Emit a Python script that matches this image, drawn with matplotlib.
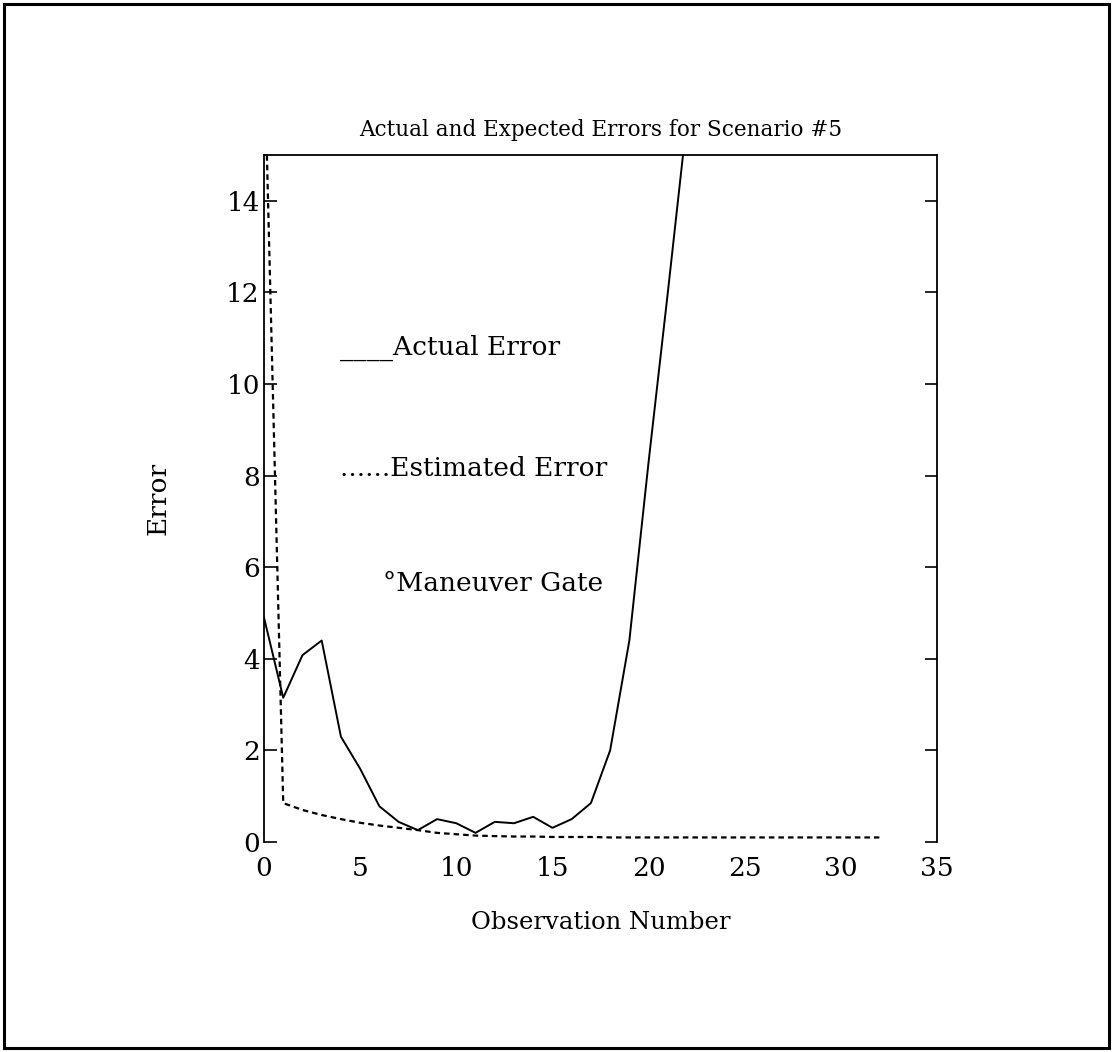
import matplotlib
matplotlib.use("Agg")
import matplotlib.pyplot as plt
from matplotlib.patches import Rectangle

# observation numbers and the two error series
obs_actual = list(range(0, 24))
actual_err = [4.9, 3.15, 4.08, 4.4, 2.3, 1.6, 0.78, 0.44, 0.26, 0.5, 0.41, 0.2,
              0.44, 0.41, 0.55, 0.31, 0.5, 0.85, 2.0, 4.4, 8.3, 12.0, 15.8, 20.0]

obs_est = list(range(0, 33))
est_err = [17.5, 0.85, 0.7, 0.59, 0.5, 0.42, 0.36, 0.31, 0.26, 0.2, 0.17, 0.14,
           0.13, 0.12, 0.12, 0.11, 0.11, 0.11, 0.1, 0.1, 0.1, 0.1, 0.1, 0.1,
           0.1, 0.1, 0.1, 0.1, 0.1, 0.1, 0.1, 0.1, 0.1]

xticks = [0, 5, 10, 15, 20, 25, 30, 35]
yticks = [0, 2, 4, 6, 8, 10, 12, 14]

plt.rcParams["font.family"] = ["DejaVu Serif"]

fig = plt.figure(figsize=(11.13, 10.52), dpi=100)
# outer frame round the whole page
fig.patches.append(Rectangle((0.004, 0.004), 0.992, 0.992, transform=fig.transFigure,
                             fill=False, lw=2.2, ec="black"))

ax = fig.add_axes([0.2372, 0.1996, 0.6047, 0.653])
ax.plot(obs_actual, actual_err, color="black", lw=1.4)
ax.plot(obs_est, est_err, color="black", lw=1.6, ls=(0, (2.5, 1.8)))

ax.set_xlim(0, 35)
ax.set_ylim(0, 15)
ax.set_xticks(xticks)
ax.set_yticks(yticks)
ax.tick_params(axis="y", direction="in", left=True, right=True, length=9, width=1.2,
               labelsize=19, pad=3)
ax.tick_params(axis="x", length=0, labelsize=19, pad=10)
ax.spines["bottom"].set_visible(False)
for s in ["left", "right", "top"]:
    ax.spines[s].set_linewidth(1.3)

ax.set_title("Actual and Expected Errors for Scenario #5", fontsize=15.5, pad=14)
ax.set_xlabel("Observation Number", fontsize=17.5, labelpad=22)
ax.set_ylabel("Error", fontsize=19, labelpad=40)

# in-plot key, written as text like the original
ax.text(3.95, 10.8, "____Actual Error", fontsize=19, va="center")
ax.text(3.95, 8.15, "......Estimated Error", fontsize=19, va="center")
ax.text(6.2, 5.65, "°Maneuver Gate", fontsize=19, va="center")

fig.savefig("out.png", dpi=100)
